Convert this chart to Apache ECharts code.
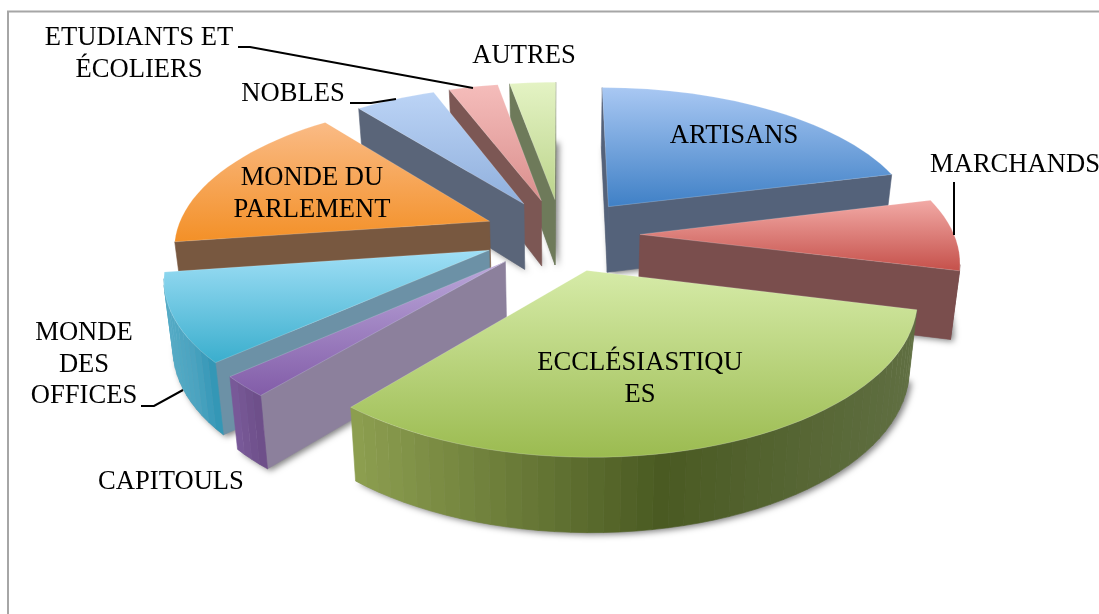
<!DOCTYPE html>
<html>
<head>
<meta charset="utf-8">
<style>
  html, body { margin: 0; padding: 0; background: #fff; }
  #main { width: 1099px; height: 614px; }
</style>
<script src="https://cdn.jsdelivr.net/npm/echarts@6/dist/echarts.min.js"></script>
</head>
<body>
<div id="main"></div>
<script>
  // parts, clockwise from the top
  var categories = [
    "ARTISANS",
    "MARCHANDS",
    "ECCLÉSIASTIQUES",
    "CAPITOULS",
    "MONDE DES OFFICES",
    "MONDE DU PARLEMENT",
    "NOBLES",
    "ETUDIANTS ET ÉCOLIERS",
    "AUTRES"
  ];
  var values = [21.1, 7.8, 32.3, 2.2, 9.4, 16.6, 4.9, 3, 2.8];

  // back slices first, so the front ones cover them
  var drawOrder = [8, 7, 6, 5, 4, 3, 0, 1, 2];

  var topColors = [
    ["#a9c8f3", "#3f80c6"],
    ["#f2aaa6", "#c5504a"],
    ["#d6eba8", "#9bbb50"],
    ["#bba8da", "#825ca8"],
    ["#a0dff6", "#3aaecd"],
    ["#fabb86", "#f39027"],
    ["#bcd4f6", "#8fafdc"],
    ["#f5bdbb", "#da8f8d"],
    ["#e4f3c4", "#bcd48c"]
  ];
  var wallColors = ["#54627a", "#7a4e4d", "#5f6f40", "#8c809c", "#6c91a6", "#785840", "#5a6579", "#7c5754", "#6e7a5a"];
  var rimColors = [
    ["#54627a", "#54627a", "#54627a"],
    ["#7a4e4d", "#7a4e4d", "#7a4e4d"],
    ["#8d9f50", "#4a5a22", "#606f42"],
    ["#7a5b9a", "#72538f", "#6c4d88"],
    ["#55abc6", "#4aa3c0", "#2f94b4"],
    ["#785840", "#785840", "#785840"],
    ["#5a6579", "#5a6579", "#5a6579"],
    ["#7c5754", "#7c5754", "#7c5754"],
    ["#6e7a5a", "#6e7a5a", "#6e7a5a"]
  ];

  var labels = [
    { text: "ETUDIANTS ET\nÉCOLIERS", x: 139, y: 54 },
    { text: "AUTRES", x: 524, y: 56 },
    { text: "NOBLES", x: 293, y: 94 },
    { text: "MONDE DU\nPARLEMENT", x: 312, y: 194 },
    { text: "ARTISANS", x: 734, y: 136 },
    { text: "MARCHANDS", x: 1015, y: 165 },
    { text: "ECCLÉSIASTIQU\nES", x: 640, y: 379 },
    { text: "MONDE\nDES\nOFFICES", x: 84, y: 365 },
    { text: "CAPITOULS", x: 171, y: 482 }
  ];
  var leaders = [
    [[238, 47], [250, 47], [473, 88]],
    [[350, 103], [371, 103], [396, 99]],
    [[954, 182], [954, 235]],
    [[141, 406], [154, 406], [183, 390]]
  ];

  // flat pie seen in perspective
  var cx = 561.5, cy = 234.5, scaleX = 314, scaleZ = 145.5, persp = 0.155;
  var explode = 0.25, depth = 67, converge = 0.977;

  var sum = values.reduce(function(a, b) { return a + b; }, 0);
  var starts = [];
  values.reduce(function(acc, v) {
    starts.push((acc / sum) * 360);
    return acc + v;
  }, 0);

  function project(x, z) {
    var f = 1 / (1 - persp * z);
    return [cx + scaleX * x * f, cy + scaleZ * z * f];
  }
  function lower(p, z) {
    return [cx + (p[0] - cx) * converge, p[1] + depth * (1 + 0.1 * z)];
  }
  function rad(a) {
    return (a * Math.PI) / 180;
  }
  // mix two hex colours
  function mix(c1, c2, t) {
    var out = "#";
    for (var i = 1; i < 7; i += 2) {
      var a = parseInt(c1.substr(i, 2), 16);
      var b = parseInt(c2.substr(i, 2), 16);
      var v = Math.round(a + (b - a) * t).toString(16);
      out += v.length < 2 ? "0" + v : v;
    }
    return out;
  }
  function rimColor(stops, t) {
    return t < 0.55 ? mix(stops[0], stops[1], t / 0.55) : mix(stops[1], stops[2], (t - 0.55) / 0.45);
  }
  // a wall shows if going down from its top edge leaves the top face
  function facing(a, b, inner) {
    var ex = b[0] - a[0], ey = b[1] - a[1];
    return ex * (inner[1] - a[1]) - ey * (inner[0] - a[0]) < 0 !== ex * 1 < 0;
  }

  function renderSlice(params, api) {
    var idx = api.value(1);
    var a0 = starts[idx];
    var a1 = a0 + (api.value(0) / sum) * 360;
    var mid = rad((a0 + a1) / 2);
    var ox = explode * Math.sin(mid), oz = -explode * Math.cos(mid);

    var arc = [];
    var steps = Math.max(2, Math.ceil((a1 - a0) / 2.5));
    for (var i = 0; i <= steps; i++) {
      var a = rad(a0 + ((a1 - a0) * i) / steps);
      var x = ox + Math.sin(a), z = oz - Math.cos(a);
      arc.push({ p: project(x, z), z: z });
    }
    var apex = project(ox, oz);
    var first = arc[0], last = arc[steps];
    var midArc = arc[Math.floor(steps / 2)].p;
    var inner = [(apex[0] + midArc[0]) / 2, (apex[1] + midArc[1]) / 2];
    var children = [];

    function wall(pa, za, pb, zb, fill) {
      children.push({
        type: "polygon",
        shape: { points: [pa, pb, lower(pb, zb), lower(pa, za)] },
        style: { fill: fill, stroke: fill, lineWidth: 0.6 }
      });
    }

    // the soft shadow comes from the underside only
    var bottom = [lower(apex, oz)];
    arc.forEach(function(q) { bottom.push(lower(q.p, q.z)); });
    children.push({
      type: "polygon",
      shape: { points: bottom },
      style: {
        fill: "#9a9a9a",
        shadowBlur: 6,
        shadowColor: "rgba(0,0,0,0.5)",
        shadowOffsetX: 3,
        shadowOffsetY: 2
      }
    });

    if (facing(apex, first.p, inner)) {
      wall(apex, oz, first.p, first.z, wallColors[idx]);
    }
    if (facing(apex, last.p, inner)) {
      wall(apex, oz, last.p, last.z, wallColors[idx]);
    }
    var minX = Infinity, maxX = -Infinity;
    arc.forEach(function(q) {
      minX = Math.min(minX, q.p[0]);
      maxX = Math.max(maxX, q.p[0]);
    });
    for (var j = 0; j < steps; j++) {
      if (!facing(arc[j].p, arc[j + 1].p, inner)) {
        continue;
      }
      var t = (arc[j].p[0] + arc[j + 1].p[0]) / 2;
      t = (t - minX) / (maxX - minX || 1);
      wall(arc[j].p, arc[j].z, arc[j + 1].p, arc[j + 1].z, rimColor(rimColors[idx], t));
    }

    var facePoints = [apex];
    arc.forEach(function(q) { facePoints.push(q.p); });
    children.push({
      type: "polygon",
      shape: { points: facePoints },
      style: {
        fill: {
          type: "linear", x: 0, y: 0, x2: 0, y2: 1,
          colorStops: [
            { offset: 0, color: topColors[idx][0] },
            { offset: 1, color: topColors[idx][1] }
          ]
        },
        stroke: "rgba(255,255,255,0.35)",
        lineWidth: 0.5
      }
    });
    return { type: "group", children: children };
  }

  var graphics = [
    {
      type: "polyline",
      shape: { points: [[8, 614], [8, 11.5], [1099, 11.5]] },
      style: { fill: null, stroke: "#a6a6a6", lineWidth: 2 },
      z: 1
    }
  ];
  leaders.forEach(function(pts) {
    graphics.push({
      type: "polyline",
      shape: { points: pts },
      style: { fill: null, stroke: "#000", lineWidth: 2 },
      z: 20
    });
  });
  labels.forEach(function(l) {
    graphics.push({
      type: "text",
      x: l.x,
      y: l.y,
      z: 30,
      style: {
        text: l.text,
        font: '26.6px "Liberation Serif"',
        lineHeight: 31.5,
        fill: "#000",
        align: "center",
        verticalAlign: "middle"
      }
    });
  });

  var myChart = echarts.init(document.getElementById("main"), null, { renderer: "canvas" });
  myChart.setOption({
    animation: false,
    backgroundColor: "#fff",
    graphic: graphics,
    series: [
      {
        type: "custom",
        name: "Répartition",
        coordinateSystem: "none",
        silent: true,
        renderItem: renderSlice,
        data: drawOrder.map(function(i) {
          return { name: categories[i], value: [values[i], i] };
        }),
        z: 5
      }
    ]
  });
</script>
</body>
</html>
